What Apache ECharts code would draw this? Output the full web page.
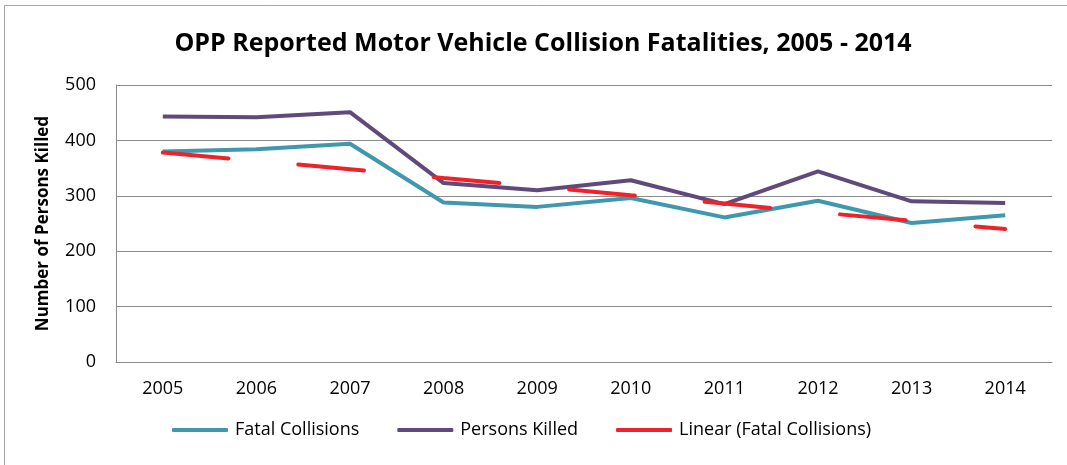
<!DOCTYPE html>
<html>
<head>
<meta charset="utf-8">
<script src="https://cdn.jsdelivr.net/npm/echarts@6/dist/echarts.min.js"></script>
<style>
  html, body { margin: 0; padding: 0; background: #fff; }
  #chart { width: 1067px; height: 465px; }
</style>
</head>
<body>
<div id="chart"></div>
<script>
const years = ['2005', '2006', '2007', '2008', '2009', '2010', '2011', '2012', '2013', '2014'];
const fatalCollisions = [380, 384, 394, 288, 280, 296, 261, 291, 251, 265];
const personsKilled = [443, 442, 451, 323, 310, 328, 285, 344, 290, 287];
// trend line
const linearFatal = [378, 363, 348, 332, 317, 301, 286, 270, 255, 240];

const font = '"Open Sans", sans-serif';

const chart = echarts.init(document.getElementById('chart'));
chart.setOption({
  animation: false,
  title: {
    text: 'OPP Reported Motor Vehicle Collision Fatalities, 2005 - 2014',
    left: 538,
    textAlign: 'center',
    top: 26,
    textStyle: { fontFamily: font, fontSize: 25, fontWeight: 'bold', color: '#000' }
  },
  grid: { left: 116, right: 15, top: 85, bottom: 103 },
  graphic: [{
    type: 'polyline',
    shape: { points: [[4.5, 470], [4.5, 5.5], [1070, 5.5]] },
    style: { stroke: '#a6a6a6', lineWidth: 1, fill: null }
  }],
  legend: {
    left: 167,
    top: 416,
    icon: 'roundRect',
    itemWidth: 56,
    itemHeight: 4,
    itemGap: 38,
    textStyle: { fontFamily: font, fontSize: 18, color: '#000', padding: [0, 0, 0, 2] },
    data: ['Fatal Collisions', 'Persons Killed', 'Linear (Fatal Collisions)']
  },
  xAxis: {
    type: 'category',
    data: years,
    axisLine: { lineStyle: { color: '#8c8c8c', width: 1 } },
    axisTick: { show: false },
    axisLabel: { fontFamily: font, fontSize: 18, color: '#000', margin: 18 }
  },
  yAxis: {
    type: 'value',
    min: 0,
    max: 500,
    interval: 100,
    name: 'Number of Persons Killed',
    nameLocation: 'middle',
    nameGap: 64,
    nameTextStyle: { fontFamily: font, fontSize: 17, fontWeight: 'bold', color: '#000' },
    axisLine: { show: true, lineStyle: { color: '#8c8c8c', width: 1 } },
    axisTick: { show: false },
    axisLabel: { fontFamily: font, fontSize: 18, color: '#000', margin: 20 },
    splitLine: { lineStyle: { color: '#8c8c8c', width: 1 } }
  },
  series: [
    {
      name: 'Fatal Collisions',
      type: 'line',
      data: fatalCollisions,
      symbol: 'none',
      color: '#3f98ae',
      lineStyle: { width: 4, color: '#3f98ae' },
      z: 3
    },
    {
      name: 'Persons Killed',
      type: 'line',
      data: personsKilled,
      symbol: 'none',
      color: '#604a7b',
      lineStyle: { width: 4, color: '#604a7b' },
      z: 2
    },
    {
      name: 'Linear (Fatal Collisions)',
      type: 'line',
      data: linearFatal,
      symbol: 'none',
      color: '#ee2229',
      lineStyle: { width: 4, color: '#ee2229', type: [66, 70], cap: 'round' },
      z: 4
    }
  ]
});
</script>
</body>
</html>
